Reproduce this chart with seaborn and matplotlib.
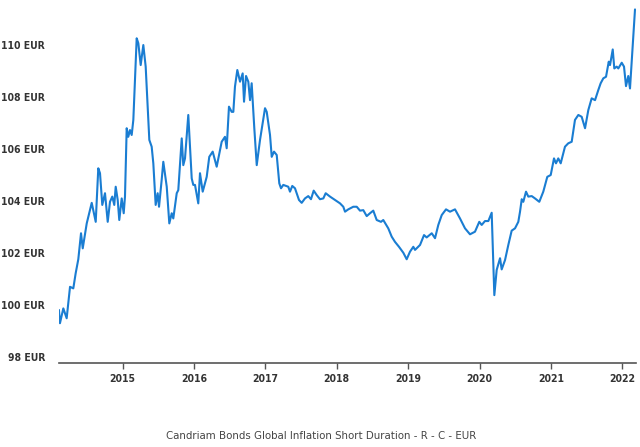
import matplotlib
matplotlib.use("Agg")
import matplotlib.pyplot as plt
from matplotlib import font_manager as fm
import seaborn as sns
import pandas as pd

years = [
    2014.107, 2014.121, 2014.168, 2014.215, 2014.262, 2014.308, 2014.341, 2014.378, 2014.416, 2014.440,
    2014.496, 2014.566, 2014.622, 2014.658, 2014.682, 2014.714, 2014.752, 2014.790, 2014.822, 2014.854,
    2014.882, 2014.902, 2014.930, 2014.952, 2014.986, 2015.014, 2015.032, 2015.056, 2015.078, 2015.102,
    2015.126, 2015.149, 2015.196, 2015.219, 2015.252, 2015.289, 2015.322, 2015.373, 2015.406, 2015.429,
    2015.462, 2015.490, 2015.509, 2015.546, 2015.569, 2015.617, 2015.653, 2015.687, 2015.709, 2015.757,
    2015.779, 2015.827, 2015.849, 2015.873, 2015.919, 2015.967, 2015.989, 2016.013, 2016.059, 2016.083,
    2016.121, 2016.177, 2016.213, 2016.261, 2016.317, 2016.387, 2016.433, 2016.457, 2016.489, 2016.527,
    2016.550, 2016.573, 2016.606, 2016.644, 2016.681, 2016.700, 2016.728, 2016.760, 2016.784, 2016.807,
    2016.844, 2016.878, 2016.924, 2016.994, 2017.018, 2017.064, 2017.088, 2017.120, 2017.158, 2017.194,
    2017.218, 2017.250, 2017.320, 2017.344, 2017.376, 2017.414, 2017.470, 2017.508, 2017.554, 2017.600,
    2017.638, 2017.676, 2017.718, 2017.764, 2017.811, 2017.844, 2017.905, 2017.975, 2018.045, 2018.091,
    2018.115, 2018.161, 2018.231, 2018.279, 2018.325, 2018.371, 2018.419, 2018.465, 2018.511, 2018.559,
    2018.619, 2018.651, 2018.721, 2018.769, 2018.815, 2018.871, 2018.932, 2018.979, 2019.025, 2019.072,
    2019.096, 2019.166, 2019.222, 2019.259, 2019.330, 2019.376, 2019.422, 2019.470, 2019.530, 2019.586,
    2019.656, 2019.726, 2019.796, 2019.866, 2019.936, 2019.996, 2020.030, 2020.076, 2020.123, 2020.170,
    2020.207, 2020.240, 2020.287, 2020.310, 2020.357, 2020.403, 2020.450, 2020.497, 2020.543, 2020.567,
    2020.591, 2020.613, 2020.651, 2020.683, 2020.731, 2020.777, 2020.837, 2020.893, 2020.949, 2020.997,
    2021.043, 2021.071, 2021.103, 2021.137, 2021.197, 2021.243, 2021.291, 2021.337, 2021.384, 2021.431,
    2021.478, 2021.524, 2021.571, 2021.618, 2021.664, 2021.697, 2021.734, 2021.772, 2021.810, 2021.828,
    2021.866, 2021.888, 2021.922, 2021.944, 2021.992, 2022.024, 2022.052, 2022.084, 2022.108, 2022.178,
]

nav = [
    99.81, 99.30, 99.87, 99.49, 100.70, 100.64, 101.22, 101.76, 102.76, 102.18,
    103.14, 103.93, 103.20, 105.26, 105.07, 103.85, 104.30, 103.20, 103.97, 104.17,
    103.85, 104.55, 104.04, 103.27, 104.10, 103.53, 104.17, 106.80, 106.47, 106.73,
    106.54, 107.12, 110.26, 110.07, 109.23, 110.00, 109.17, 106.35, 106.09, 105.45,
    103.85, 104.30, 103.78, 104.81, 105.51, 104.55, 103.14, 103.53, 103.33, 104.30,
    104.42, 106.41, 105.38, 105.64, 107.31, 104.87, 104.62, 104.62, 103.91, 105.07,
    104.36, 104.93, 105.70, 105.90, 105.32, 106.28, 106.47, 106.03, 107.63, 107.43,
    107.43, 108.40, 109.04, 108.59, 108.91, 107.82, 108.81, 108.59, 107.88, 108.53,
    106.80, 105.38, 106.35, 107.57, 107.43, 106.54, 105.70, 105.90, 105.77, 104.68,
    104.49, 104.62, 104.55, 104.36, 104.58, 104.49, 104.04, 103.93, 104.10, 104.19,
    104.07, 104.40, 104.23, 104.07, 104.10, 104.30, 104.17, 104.04, 103.91, 103.78,
    103.59, 103.68, 103.78, 103.78, 103.63, 103.65, 103.42, 103.53, 103.63, 103.27,
    103.20, 103.27, 102.95, 102.63, 102.43, 102.24, 102.01, 101.76, 102.05, 102.24,
    102.12, 102.31, 102.69, 102.60, 102.76, 102.57, 103.08, 103.46, 103.68, 103.59,
    103.68, 103.33, 102.95, 102.72, 102.82, 103.20, 103.08, 103.23, 103.23, 103.55,
    100.38, 101.35, 101.80, 101.37, 101.73, 102.31, 102.86, 102.95, 103.20, 103.59,
    104.07, 103.97, 104.36, 104.17, 104.19, 104.10, 103.97, 104.36, 104.93, 105.00,
    105.64, 105.45, 105.64, 105.45, 106.09, 106.22, 106.28, 107.12, 107.31, 107.24,
    106.80, 107.50, 107.95, 107.88, 108.27, 108.53, 108.72, 108.78, 109.36, 109.23,
    109.83, 109.10, 109.17, 109.10, 109.32, 109.17, 108.42, 108.81, 108.33, 111.37,
]

year_ticks = [2015, 2016, 2017, 2018, 2019, 2020, 2021, 2022]
y_ticks = [98, 100, 102, 104, 106, 108, 110]
y_tick_labels = [f"{v} EUR" for v in y_ticks]
title = "Candriam Bonds Global Inflation Short Duration - R - C - EUR"


def find_condensed(bold):
    """Look for an installed narrow/condensed face; return its file or None."""
    cands = []
    for f in fm.fontManager.ttflist:
        low = f.fname.lower()
        if ("narrow" in low or "condensed" in low) and "mono" not in low and "oblique" not in low and "italic" not in low:
            w = f.weight if isinstance(f.weight, int) else 400
            isbold = w >= 600 or "bold" in low
            if isbold == bold:
                cands.append(f.fname)
    pref = ["liberationsansnarrow", "opensans", "dejavusans", "roboto", "noto"]
    for p in pref:
        for c in cands:
            if p in c.lower().replace("-", "").replace("_", ""):
                return c
    return cands[0] if cands else None


bold_file = find_condensed(True)
reg_file = find_condensed(False)
if bold_file:
    tick_fp = fm.FontProperties(fname=bold_file, size=7.5)
else:
    tick_fp = fm.FontProperties(family=["Open Sans", "DejaVu Sans"], weight="bold", size=7)
if reg_file:
    title_fp = fm.FontProperties(fname=reg_file, size=8.2)
else:
    title_fp = fm.FontProperties(family=["Open Sans", "DejaVu Sans"], size=7.5)

df = pd.DataFrame({"year": years, "nav": nav})

sns.set_theme(style="white")
plt.rcParams["font.family"] = ["Open Sans", "DejaVu Sans"]

fig = plt.figure(figsize=(6.4, 4.47), dpi=100)
ax = fig.add_axes([59 / 640, 1 - 363 / 447, (636 - 59) / 640, (363 - 5) / 447])

sns.lineplot(data=df, x="year", y="nav", ax=ax, color="#1a7dd2", linewidth=1.5, sort=False)

ax.set_xlim(2014.1075, 2022.192)
ax.set_ylim(97.77, 111.54)

ax.set_xticks(year_ticks)
ax.set_xticklabels([str(y) for y in year_ticks], fontproperties=tick_fp, color="#333333")
ax.set_yticks(y_ticks)
ax.set_yticklabels(y_tick_labels, fontproperties=tick_fp, color="#333333")

ax.set_xlabel("")
ax.set_ylabel("")
for side in ["top", "right", "left"]:
    ax.spines[side].set_visible(False)
ax.spines["bottom"].set_color("#555555")
ax.spines["bottom"].set_linewidth(1.2)

ax.tick_params(axis="x", which="both", bottom=True, length=4.5, width=1.0, color="#555555", pad=3.5, direction="out")
ax.tick_params(axis="y", which="both", left=False, length=0, pad=10)
ax.grid(False)

fig.text(321 / 640, 1 - 436 / 447, title, ha="center", va="center", fontproperties=title_fp, color="#444444")

fig.savefig("out.png", dpi=100)
